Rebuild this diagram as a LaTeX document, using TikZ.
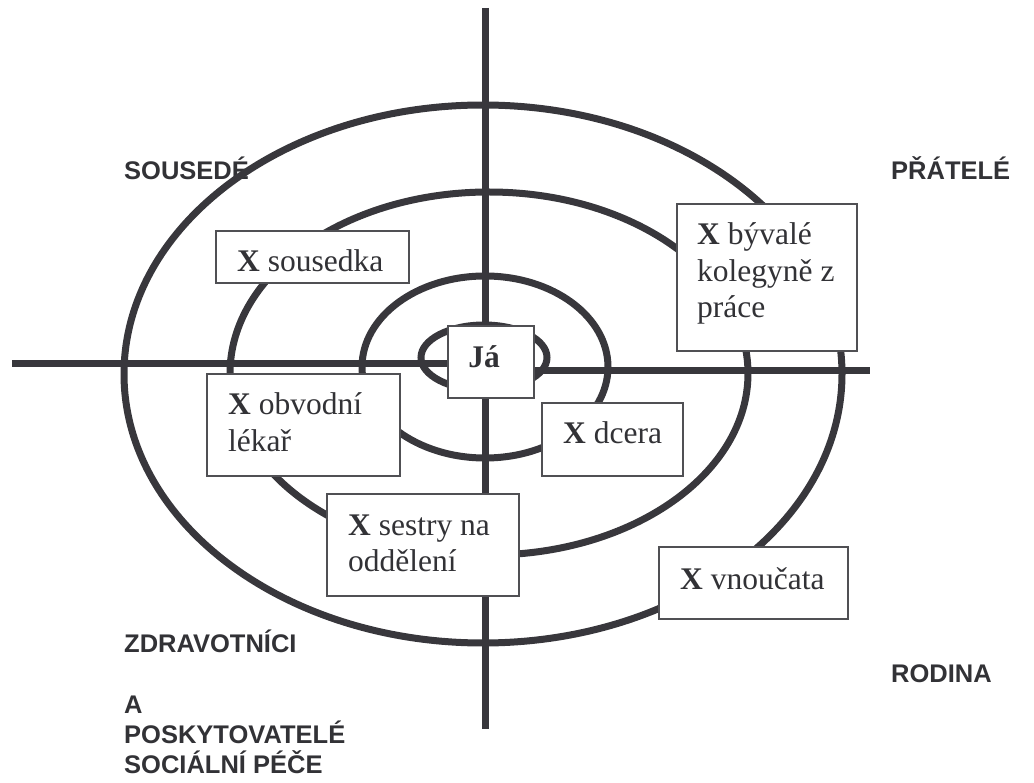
\documentclass[tikz,border=0pt]{standalone}
\usepackage{fontspec}
\setmainfont{Liberation Serif}
\newfontfamily\labelfont{Liberation Sans}
\definecolor{ink}{RGB}{56,55,60}
\definecolor{boxline}{RGB}{80,80,84}
\definecolor{txtcol}{RGB}{50,50,54}
\begin{document}
\begin{tikzpicture}[x=1pt,y=-1pt,
  thickline/.style={draw=ink,line width=7pt},
  ring/.style={draw=ink,line width=7pt},
  boxnode/.style={draw=boxline,fill=white,line width=1.4pt,anchor=north west,inner sep=0pt,outer sep=0pt},
  boxtext/.style={text=txtcol,inner sep=0pt,anchor=base west,font=\fontsize{31.5}{36.5}\selectfont},
  quadlabel/.style={text=txtcol,inner sep=0pt,anchor=base west,font=\labelfont\bfseries\fontsize{25.5}{30}\selectfont}
]
\useasboundingbox (0,0) rectangle (1034,783);
% quadrant labels
\node[quadlabel] (lsous) at (124,180) {SOUSEDÉ};
\node[quadlabel] (lprat) at (891,180) {PŘÁTELÉ};
\node[quadlabel] (lrod) at (891,682) {RODINA};
\node[quadlabel] (lzdr) at (124,652) {ZDRAVOTNÍCI};
\node[quadlabel] (lposk) at (124,713) {\parbox[t]{300pt}{\raggedright A\\POSKYTOVATELÉ\\SOCIÁLNÍ PÉČE}};
% axes
\coordinate (vt) at (485,8);
\coordinate (vb) at (485,729);
\coordinate (hl1) at (12,364);
\coordinate (hl2) at (470,364);
\coordinate (hr1) at (500,371);
\coordinate (hr2) at (870,371);
\draw[thickline] (vt) -- (vb);
\draw[thickline] (hl1) -- (hl2);
\draw[thickline] (hr1) -- (hr2);
% rings
\draw[ring] (483,374) ellipse [x radius=359, y radius=269];
\draw[ring] (489,373.5) ellipse [x radius=259, y radius=181.5];
\draw[ring] (485,367) ellipse [x radius=123, y radius=91];
\draw[ring] (484,357.5) ellipse [x radius=63, y radius=32.5];
% boxes
\node[boxnode,minimum width=193pt,minimum height=52pt] (bsous) at (216,231) {};
\node[boxnode,minimum width=193pt,minimum height=102pt] (bobv) at (207,374) {};
\node[boxnode,minimum width=86pt,minimum height=72pt] (bja) at (448,326) {};
\node[boxnode,minimum width=180pt,minimum height=147pt] (bbyv) at (677,204) {};
\node[boxnode,minimum width=141pt,minimum height=73pt] (bdcera) at (542,403) {};
\node[boxnode,minimum width=192pt,minimum height=102pt] (bsestry) at (327,494) {};
\node[boxnode,minimum width=189pt,minimum height=72pt] (bvnouc) at (659,547) {};
% box texts
\node[boxtext] (tsous) at (237,272) {\textbf{X} sousedka};
\node[boxtext] (tbyv) at (697,245) {\parbox[t]{170pt}{\raggedright\textbf{X} bývalé\\kolegyně z\\práce}};
\node[boxtext] (tobv) at (228,415) {\parbox[t]{170pt}{\raggedright\textbf{X} obvodní\\lékař}};
\node[boxtext] (tsestry) at (348,535) {\parbox[t]{170pt}{\raggedright\textbf{X} sestry na\\oddělení}};
\node[boxtext] (tdcera) at (563,444) {\textbf{X} dcera};
\node[boxtext] (tvnouc) at (680,589) {\textbf{X} vnoučata};
\node[boxtext,anchor=base] (tja) at (484,368) {\textbf{Já}};
\end{tikzpicture}
\end{document}
